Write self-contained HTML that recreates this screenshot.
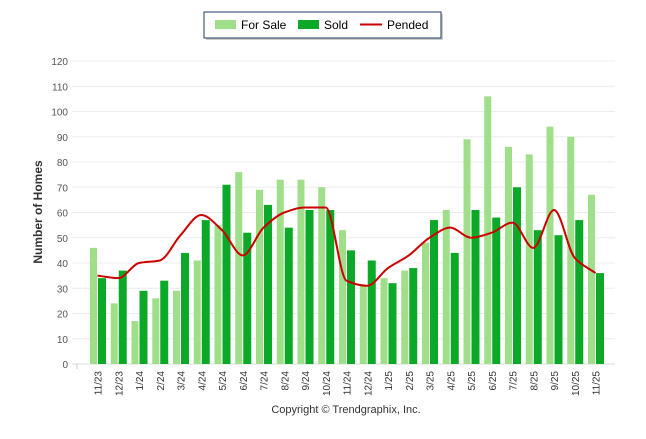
<!DOCTYPE html>
<html><head><meta charset="utf-8"><style>
body{margin:0;background:#fff;width:646px;height:434px;overflow:hidden;font-family:"Liberation Sans",sans-serif}
</style></head><body>
<svg id="chart" width="646" height="434" xmlns="http://www.w3.org/2000/svg" font-family="Liberation Sans, sans-serif">
<g>
<rect x="206" y="14" width="237" height="26" fill="#999" opacity="0.5"/>
<rect x="204" y="12" width="237" height="26" fill="#fff" stroke="#1f3864" stroke-width="1"/>
<rect x="215" y="20" width="21" height="9" fill="#a0df8a"/>
<text x="241" y="29" font-size="12" fill="#000">For Sale</text>
<rect x="298" y="20" width="21" height="9" fill="#0ca827"/>
<text x="324" y="29" font-size="12" fill="#000">Sold</text>
<line x1="360" y1="24.5" x2="382" y2="24.5" stroke="#cc0000" stroke-width="2"/>
<text x="387" y="29" font-size="12" fill="#000">Pended</text>
</g>
<g id="grid"></g><g id="bars"></g><g id="line"></g><g id="xl"></g>
<text transform="translate(42,212) rotate(-90)" text-anchor="middle" font-size="12" font-weight="bold" fill="#333">Number of Homes</text>
<text x="346" y="413" text-anchor="middle" font-size="11" fill="#333">Copyright © Trendgraphix, Inc.</text>
</svg>
<script>
const categories=["11/23","12/23","1/24","2/24","3/24","4/24","5/24","6/24","7/24","8/24","9/24","10/24","11/24","12/24","1/25","2/25","3/25","4/25","5/25","6/25","7/25","8/25","9/25","10/25","11/25"];
const forSale=[46,24,17,26,29,41,55,76,69,73,73,70,53,31,34,37,48,61,89,106,86,83,94,90,67];
const sold=[34,37,29,33,44,57,71,52,63,54,61,61,45,41,32,38,57,44,61,58,70,53,51,57,36];
const pended=[35,34,40,41,51,59,53,43,54,60,62,62,33,31,38,43,50,54,50,52,56,46,61,42,36];
const yTicks=[0,10,20,30,40,50,60,70,80,90,100,110,120];
const NS="http://www.w3.org/2000/svg";
const y=v=>364-v*(303/120);
const x=i=>97.5+i*20.75;
function mk(t,a,p){const e=document.createElementNS(NS,t);for(const k in a)e.setAttribute(k,a[k]);document.getElementById(p).appendChild(e);return e;}
yTicks.forEach(v=>{
 const g=mk('line',{x1:72,x2:615,y1:y(v),y2:y(v),stroke:v===0?'#ddd':'#ececec','stroke-width':1},'grid');
 
 
 const t=mk('text',{x:68,y:y(v)+4,'text-anchor':'end','font-size':'10',fill:'#555'},'grid');
 t.textContent=v;
 
 
});
const tk=mk('line',{x1:77,x2:77,y1:364,y2:369,stroke:'#ccc'},'grid');


categories.forEach((c,i)=>{
 const a=mk('rect',{x:x(i)-7.5,y:y(forSale[i]),width:7,height:364-y(forSale[i]),fill:'#a0df8a'},'bars');
 
 
 const b=mk('rect',{x:x(i)+0.5,y:y(sold[i]),width:8,height:364-y(sold[i]),fill:'#0ca827'},'bars');
 
 
 const t=mk('text',{transform:`translate(${x(i)+4},371) rotate(-90)`,'text-anchor':'end','font-size':'10',fill:'#333'},'xl');
 t.textContent=c;
 
 
});
// monotone cubic (Fritsch-Carlson)
const pts=pended.map((v,i)=>[x(i),y(v)]);
const n=pts.length,h=20.75;
const dl=[];for(let i=0;i<n-1;i++)dl.push((pts[i+1][1]-pts[i][1])/h);
const m=[];
for(let i=0;i<n;i++){
 if(i===0)m.push(dl[0]);else if(i===n-1)m.push(dl[n-2]);
 else if(dl[i-1]*dl[i]<=0)m.push(0);
 else m.push(2/(1/dl[i-1]+1/dl[i]));
}
let d=`M${pts[0][0]},${pts[0][1]}`;
for(let i=0;i<n-1;i++){
 const p1=pts[i],p2=pts[i+1];
 d+=` C${p1[0]+h/3},${p1[1]+m[i]*h/3} ${p2[0]-h/3},${p2[1]-m[i+1]*h/3} ${p2[0]},${p2[1]}`;
}
const ln=mk('path',{d:d,fill:'none',stroke:'#cc0000','stroke-width':2},'line');


</script>
</body></html>
